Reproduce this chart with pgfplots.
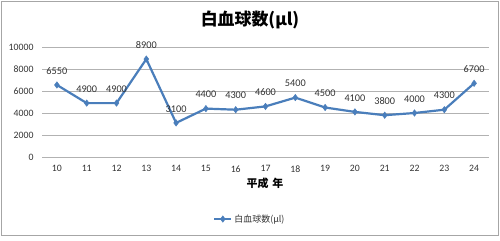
\documentclass[border=0pt]{standalone}
\usepackage{pgfplots}
\pgfplotsset{compat=1.18}
\usepackage{fontspec}
\setmainfont{Carlito}
\newfontfamily\jp{Noto Sans CJK JP}
\definecolor{serie}{HTML}{4A7EBB}
\begin{document}
\begin{tikzpicture}[x=1bp,y=1bp]
\useasboundingbox (0,0) rectangle (500,240);
\draw[black!35, line width=0.8bp] (1,5) rectangle (498,239);
\node[font=\jp\bfseries\fontsize{17}{20}\selectfont] at (250,220) {白血球数(μl)};
\node[font=\jp\bfseries\fontsize{11}{13}\selectfont] at (265,57) {平成\,\,年};
\begin{axis}[
  at={(42bp,83bp)}, anchor=south west,
  scale only axis, width=447bp, height=110bp,
  xmin=9.5, xmax=24.5, ymin=0, ymax=10000,
  xtick={10,...,24}, ytick={0,2000,...,10000},
  scaled ticks=false,
  ymajorgrids, grid style={black!30, line width=0.9bp},
  axis line style={draw=none}, major tick length=0pt,
  tick label style={font=\fontsize{9.8}{11}\selectfont, text=black!80},
  /pgf/number format/assume math mode=true,
  /pgf/number format/set thousands separator={},
  yticklabel style={xshift=-5bp},
  xticklabel style={yshift=-5bp},
  legend style={at={(0.465,-0.564)}, anchor=center, draw=none, fill=none,
    font=\jp\fontsize{9}{10}\selectfont, text=black!80},
  legend cell align=left,
]
\addplot[serie, line width=2.2bp, mark=diamond*, mark size=3.2bp,
  mark options={fill=serie, line width=0.5bp},
  point meta=explicit symbolic,
  nodes near coords,
  nodes near coords style={font=\fontsize{10.3}{12}\selectfont, text=black!80, anchor=center, inner sep=0pt, yshift=14bp}]
coordinates {
(10,6550)[6550] (11,4900)[4900] (12,4900)[4900] (13,8900)[8900]
(14,3100)[3100] (15,4400)[4400] (16,4300)[4300] (17,4600)[4600]
(18,5400)[5400] (19,4500)[4500] (20,4100)[4100] (21,3800)[3800]
(22,4000)[4000] (23,4300)[4300] (24,6700)[6700]
};
\addlegendentry{白血球数(μl)}
\end{axis}
\end{tikzpicture}
\end{document}
